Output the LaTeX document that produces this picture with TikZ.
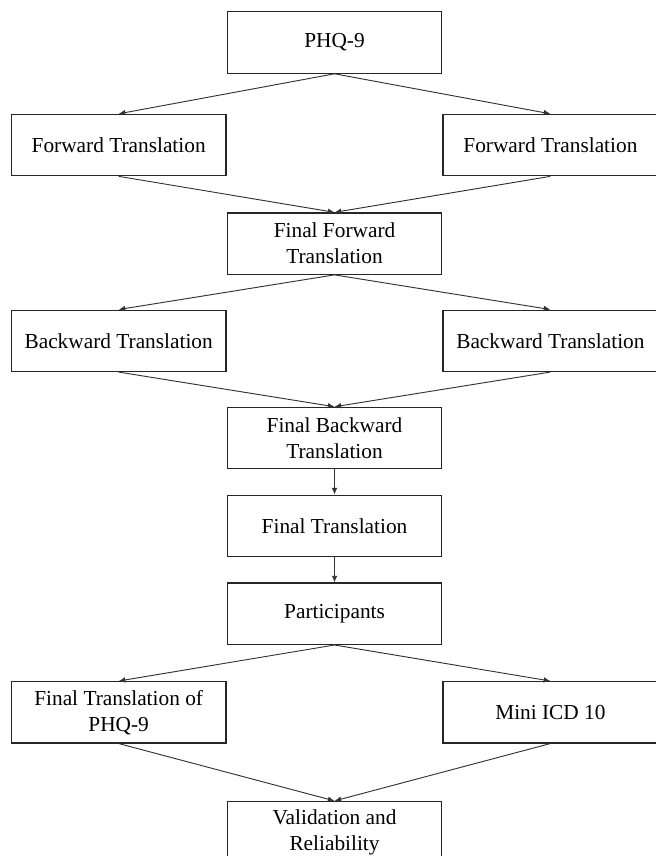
\documentclass[tikz,border=0pt]{standalone}
\usepackage{fontspec}
\setmainfont{Liberation Serif}
\usepackage{tikz}
\usetikzlibrary{arrows.meta,positioning}

\begin{document}
\begin{tikzpicture}[
  box/.style={draw=black!85, line width=0.9pt, align=center, minimum width=161pt, minimum height=46pt, inner sep=2pt, font=\fontsize{16pt}{19.5pt}\selectfont},
  arrow/.style={-{Latex[length=5pt,width=4.2pt]}, line width=0.7pt, draw=black!80}
]
\useasboundingbox (0,0) rectangle (492pt,-642pt);
\node[box] (phq) at (250.9pt,-31.9pt) {PHQ-9};
\node[box, below left=30pt and 0pt of phq] (fwdl) {Forward Translation};
\node[box, below right=30pt and 0pt of phq] (fwdr) {Forward Translation};
\node[box, below right=27pt and 0pt of fwdl] (ffwd) {Final Forward\\Translation};
\node[box, below left=26pt and 0pt of ffwd] (bwdl) {Backward Translation};
\node[box, below right=26pt and 0pt of ffwd] (bwdr) {Backward Translation};
\node[box, below right=26pt and 0pt of bwdl] (fbwd) {Final Backward\\Translation};
\node[box, below=19pt of fbwd] (final) {Final Translation};
\node[box, below=19pt of final] (part) {Participants};
\node[box, below left=27pt and 0pt of part] (fphq) {Final Translation of\\PHQ-9};
\node[box, below right=27pt and 0pt of part] (mini) {Mini ICD 10};
\node[box, below right=43pt and 0pt of fphq] (valid) {Validation and\\Reliability};

\draw[arrow] (phq.south) -- (fwdl.north);
\draw[arrow] (phq.south) -- (fwdr.north);
\draw[arrow] (fwdl.south) -- (ffwd.north);
\draw[arrow] (fwdr.south) -- (ffwd.north);
\draw[arrow] (ffwd.south) -- (bwdl.north);
\draw[arrow] (ffwd.south) -- (bwdr.north);
\draw[arrow] (bwdl.south) -- (fbwd.north);
\draw[arrow] (bwdr.south) -- (fbwd.north);
\draw[arrow] (fbwd) -- (final);
\draw[arrow] (final) -- (part);
\draw[arrow] (part.south) -- (fphq.north);
\draw[arrow] (part.south) -- (mini.north);
\draw[arrow] (fphq.south) -- (valid.north);
\draw[arrow] (mini.south) -- (valid.north);
\end{tikzpicture}
\end{document}
